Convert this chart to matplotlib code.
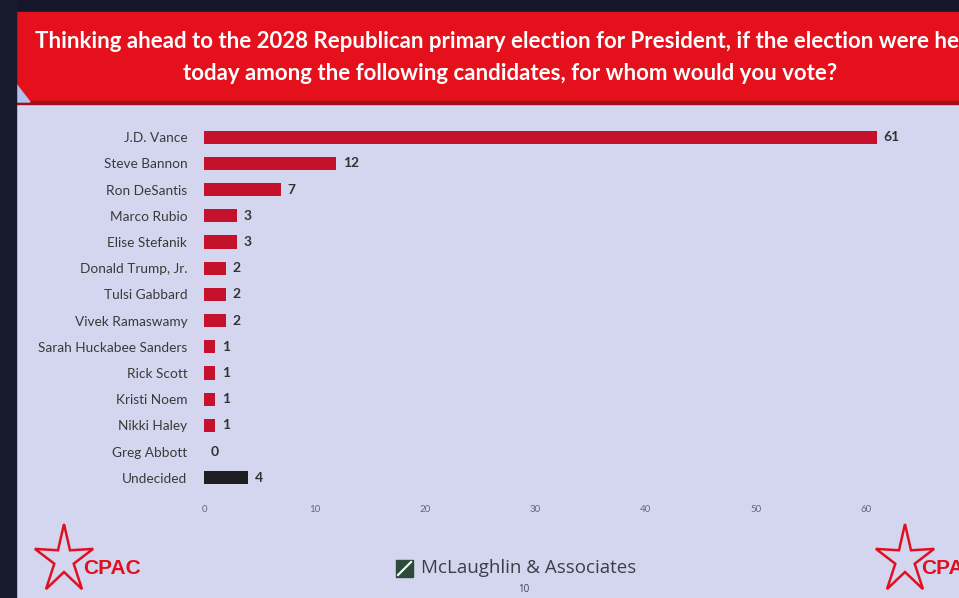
import numpy as np
import matplotlib.pyplot as plt
from matplotlib.patches import Rectangle, Polygon
from matplotlib.lines import Line2D

# poll results (percent)
candidates = ['J.D. Vance', 'Steve Bannon', 'Ron DeSantis', 'Marco Rubio', 'Elise Stefanik',
              'Donald Trump, Jr.', 'Tulsi Gabbard', 'Vivek Ramaswamy', 'Sarah Huckabee Sanders',
              'Rick Scott', 'Kristi Noem', 'Nikki Haley', 'Greg Abbott', 'Undecided']
values = [61, 12, 7, 3, 3, 2, 2, 2, 1, 1, 1, 1, 0, 4]
x_ticks = [0, 10, 20, 30, 40, 50, 60]

W, H = 959, 598
bg = '#d4d6ef'
red = '#c4122c'

fig = plt.figure(figsize=(W / 100, H / 100), dpi=100, facecolor=bg)

def px(x0, y0, x1, y1):
    # figure-pixel box (top-left origin) -> figure fraction rect
    return [x0 / W, 1 - y1 / H, (x1 - x0) / W, (y1 - y0) / H]

# --- slide decoration ---
fig.patches.append(Rectangle((0, 1 - 12 / H), 1, 12 / H, transform=fig.transFigure,
                             color='#15162a', zorder=0))
fig.patches.append(Rectangle((16 / W, 1 - 102 / H), 1, 90 / H, transform=fig.transFigure,
                             color='#e4101b', zorder=1))
fig.patches.append(Rectangle((16 / W, 1 - 104 / H), 1, 3 / H, transform=fig.transFigure,
                             color='#a0101a', zorder=1))
fig.patches.append(Polygon([(16 / W, 1 - 84 / H), (30 / W, 1 - 102 / H), (16 / W, 1 - 102 / H)],
                           closed=True, transform=fig.transFigure, color='#b3c3ee', zorder=2))
fig.patches.append(Rectangle((0, 0), 16 / W, 1, transform=fig.transFigure,
                             color='#171a2c', zorder=3))

fig.text(35 / W, 1 - 42 / H,
         'Thinking ahead to the 2028 Republican primary election for President, if the election were held',
         color='white', fontsize=16, fontweight='bold', family='Lato', ha='left', va='center')
fig.text(510 / W, 1 - 73 / H, 'today among the following candidates, for whom would you vote?',
         color='white', fontsize=16, fontweight='bold', family='Lato', ha='center', va='center')

# --- chart ---
ax = fig.add_axes(px(204, 124, 930, 491))
ax.set_facecolor(bg)
y = np.arange(len(candidates))
colors = [red] * (len(candidates) - 1) + ['#1e1e22']
ax.barh(y, values, height=0.5, color=colors)
for yi, v in zip(y, values):
    ax.text(v + 0.6, yi, str(v), va='center', ha='left', fontsize=10,
            fontweight='bold', color='#333333', family='Lato')

ax.set_xlim(0, 65.8)
ax.set_ylim(len(candidates) - 0.5, -0.5)
ax.set_yticks(y)
ax.set_yticklabels(candidates, fontsize=9.8, color='#3a3a3a', family='Lato')
ax.set_xticks(x_ticks)
ax.set_xticklabels([str(t) for t in x_ticks], fontsize=7, color='#666677', family='Lato')
ax.tick_params(axis='both', length=0)
ax.tick_params(axis='y', pad=12)
ax.tick_params(axis='x', pad=10)
for s in ax.spines.values():
    s.set_visible(False)

# --- footer ---
def star(cx, cy, r_out, r_in):
    pts = []
    for k in range(10):
        a = np.pi / 2 + k * np.pi / 5
        r = r_out if k % 2 == 0 else r_in
        pts.append(((cx + 0.85 * r * np.cos(a)) / W, 1 - (cy - r * np.sin(a)) / H))
    return pts

for cx, txt_x in [(64, 112), (905, 950)]:
    fig.patches.append(Polygon(star(cx, 560, 36, 12), closed=True, fill=False,
                               edgecolor='#e01020', linewidth=1.8,
                               transform=fig.transFigure, zorder=4))
    fig.text(txt_x / W, 1 - 568 / H, 'CPAC', color='#e01020', fontsize=15,
             fontweight='bold', family='Liberation Sans', ha='center', va='center',
             zorder=5)

fig.patches.append(Rectangle((396 / W, 1 - 577 / H), 17 / W, 17 / H, transform=fig.transFigure,
                             color='#2d4a3a', zorder=4))
fig.lines.append(Line2D([398 / W, 411 / W], [1 - 575 / H, 1 - 562 / H], transform=fig.transFigure,
                        color='white', linewidth=1.5, zorder=5))
fig.text(421 / W, 1 - 568 / H, 'McLaughlin & Associates', color='#3e3e4a', fontsize=13.5,
         family='Open Sans', ha='left', va='center')
fig.text(524 / W, 1 - 589 / H, '10', color='#3e3e4a', fontsize=7, family='Open Sans',
         ha='center', va='center')

fig.savefig('out.png', dpi=100, facecolor=bg)
